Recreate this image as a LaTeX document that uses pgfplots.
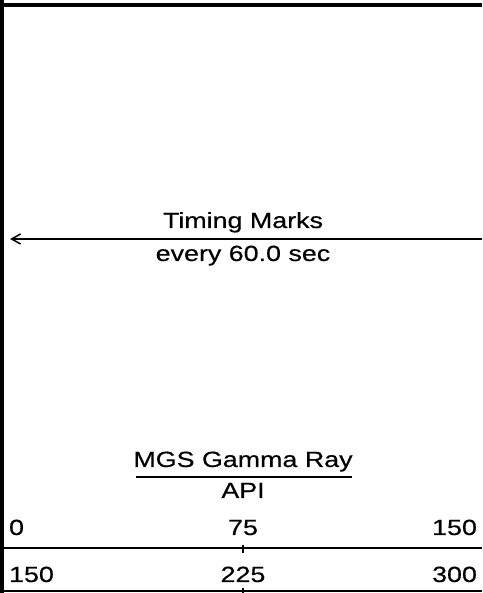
\documentclass[border=0pt]{standalone}
\usepackage{pgfplots}
\pgfplotsset{compat=1.18}
\usepackage{fontspec}
\setmainfont{Liberation Sans}[FakeStretch=1.22,FakeBold=0.4]
\usetikzlibrary{arrows.meta}

\begin{document}
\begin{tikzpicture}[every node/.style={inner sep=0pt,outer sep=0pt}]
\fontsize{22}{26}\selectfont
\useasboundingbox (0,0) rectangle (482pt,593pt);
\begin{axis}[at={(0,0)},anchor=south west,scale only axis,
	width=482pt,height=593pt,
	xmin=-1.255,xmax=150,ymin=0,ymax=593,
	hide axis,clip=false]
	% track borders (left and top)
	\addplot[black,line width=4.5pt] coordinates {(-0.628,0) (-0.628,593)};
	\addplot[black,line width=4.5pt] coordinates {(-1.255,588) (150,588)};
	% timing marks
	\addplot[black,line width=1.5pt,-{Straight Barb[length=9pt,width=10pt,line width=1.5pt]}] coordinates {(150,354) (1.9,354)};
	\node[inner sep=0pt,anchor=base] at (axis cs:75,365) {Timing Marks};
	\node[inner sep=0pt,anchor=base] at (axis cs:75,332) {every 60.0 sec};
	% curve header
	\node[inner sep=0pt,anchor=base] at (axis cs:75,126) {MGS Gamma Ray};
	\addplot[black,line width=2pt] coordinates {(41.4,116) (109.2,116)};
	\node[inner sep=0pt,anchor=base] at (axis cs:75,95) {API};
	% scale 0 - 150
	\node[inner sep=0pt,anchor=base west] at (axis cs:1.6,58) {0};
	\node[inner sep=0pt,anchor=base] at (axis cs:75,58) {75};
	\node[inner sep=0pt,anchor=base east] at (axis cs:148.4,58) {150};
	\addplot[black,line width=2pt] coordinates {(-1.255,45) (150,45)};
	\addplot[black,line width=1.5pt] coordinates {(75,40) (75,48)};
	% scale 150 - 300
	\node[inner sep=0pt,anchor=base west] at (axis cs:1.6,11) {150};
	\node[inner sep=0pt,anchor=base] at (axis cs:75,11) {225};
	\node[inner sep=0pt,anchor=base east] at (axis cs:148.4,11) {300};
	\addplot[black,line width=2pt] coordinates {(-1.255,2) (150,2)};
	\addplot[black,line width=1.5pt] coordinates {(75,0) (75,5)};
\end{axis}
\end{tikzpicture}
\end{document}
